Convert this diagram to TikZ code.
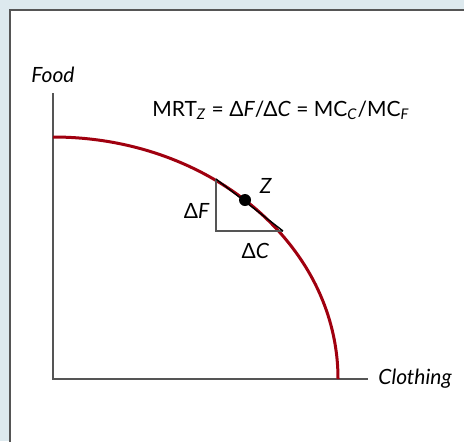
\documentclass[tikz,border=0pt]{standalone}
\usepackage{fontspec}
\setmainfont{Lato}
\usetikzlibrary{positioning,calc}
\definecolor{bgblue}{HTML}{DDE9EE}
\definecolor{framegray}{HTML}{555555}
\definecolor{ppfred}{HTML}{A0000F}
\tikzset{
axis/.style={
  draw=framegray,
  line width=0.7pt
  },
lbl/.style={
  font=\fontsize{10.5}{12}\selectfont,
  inner sep=1pt
  },
ilbl/.style={
  lbl,
  font=\fontsize{10.5}{12}\selectfont\itshape
  },
ppf/.style={
  draw=ppfred,
  line width=1.5pt
  }
}

\begin{document}
\begin{tikzpicture}[x=0.5pt,y=0.5pt]

\useasboundingbox[fill=bgblue] (0,0) rectangle (464,441);
\draw[framegray,fill=white,line width=0.8pt] (10,-10) rectangle (474,431);

\coordinate (O) at (53,62);
\coordinate (ytop) at (53,348);
\coordinate (xend) at (368,62);

\draw[axis] (ytop) -- (O) -- (xend);

\node[ilbl,above=4pt of ytop] (food) {Food};
\node[ilbl,right=4pt of xend] (cloth) {Clothing};

% frontier
\draw[ppf] (53,304) arc[start angle=90,end angle=0,x radius=285,y radius=242];

\coordinate (tA) at (216,262);
\coordinate (tB) at (283,210);
\coordinate (tC) at (216,210);

\draw[axis] (tA) -- (tC) -- (tB);
\draw[black,line width=0.7pt] (tA) -- (tB);

\node[circle,fill=black,inner sep=0pt,minimum size=6pt] (Z) at (245,241) {};
\node[ilbl,above right=0pt and 4pt of Z] (zl) {Z};
\node[lbl,left=2pt of $(tA)!0.5!(tC)$,yshift=-3pt] (dF) {Δ\textit{F}};
\node[lbl,below=5pt of $(tC)!0.5!(tB)$,xshift=3pt] (dC) {Δ\textit{C}};

\node[lbl] (mrt) at (281,331)
{MRT\textsubscript{\textit{Z}} = Δ\textit{F}/Δ\textit{C} = MC\textsubscript{\textit{C}}/MC\textsubscript{\textit{F}}};

\end{tikzpicture}
\end{document}
